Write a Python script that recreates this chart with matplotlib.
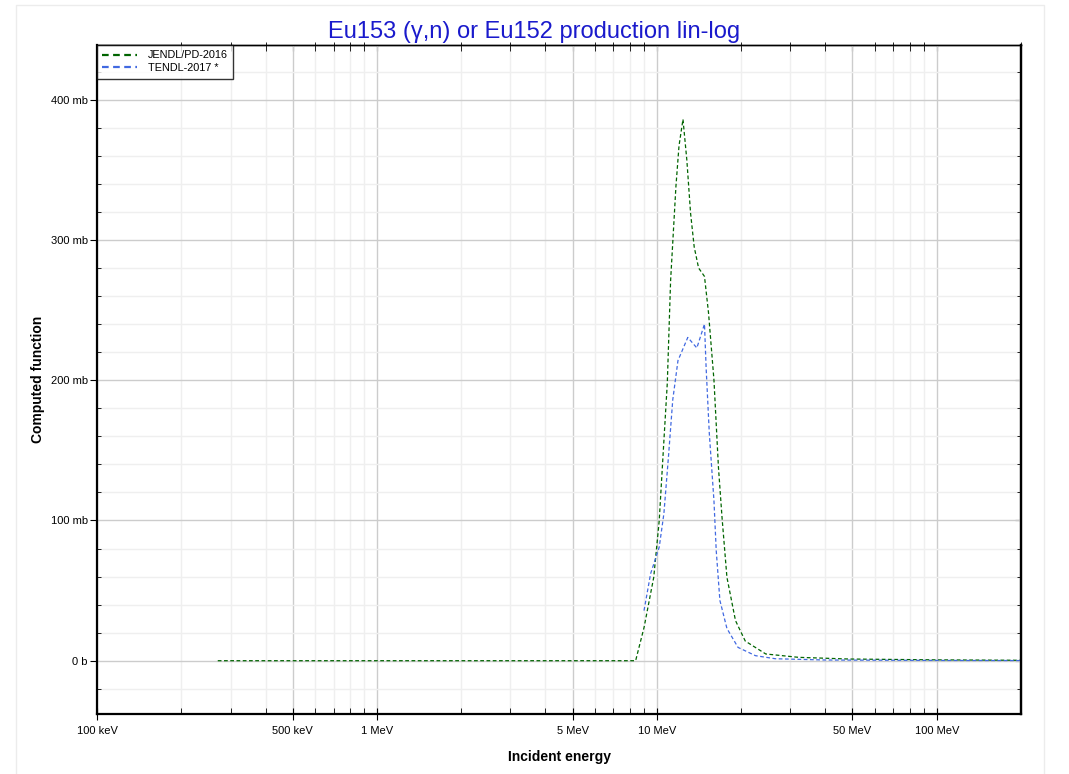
import matplotlib
matplotlib.use("Agg")
import matplotlib.pyplot as plt
from matplotlib.ticker import FixedLocator, FuncFormatter, MultipleLocator
from matplotlib.patches import Rectangle

plt.rcParams['font.family'] = ['Liberation Sans', 'DejaVu Sans']

# energies in MeV, cross sections in mb
jendl_e = [0.27, 1.0, 3.0, 8.4, 9.0, 9.75, 10.2, 10.6, 10.9, 11.2, 11.7, 12.0, 12.4,
           12.8, 13.2, 13.6, 14.1, 14.8, 15.3, 16.0, 16.6, 17.1, 17.8, 19.1, 20.7,
           24.5, 32.1, 48.5, 100.0, 200.0]
jendl_xs = [0.0, 0.0, 0.0, 0.0, 23.6, 59.5, 100.0, 157.0, 198.0, 271.0, 338.0, 367.0, 386.0,
            357.0, 319.0, 295.0, 280.0, 274.0, 248.0, 200.0, 138.0, 102.0, 59.5, 28.6, 14.0,
            4.8, 2.4, 1.2, 0.6, 0.3]

tendl_e = [9.0, 9.5, 10.2, 10.6, 11.0, 11.4, 11.9, 12.9, 13.9, 14.8, 15.0, 15.4, 16.0,
           16.3, 16.8, 17.8, 19.5, 22.5, 26.5, 40.0, 100.0, 200.0]
tendl_xs = [35.7, 62.0, 81.0, 105.0, 145.0, 186.0, 214.0, 230.5, 223.0, 240.0, 209.0, 162.0, 114.0,
            78.6, 43.0, 23.0, 9.5, 3.6, 1.4, 0.5, 0.2, 0.1]

major_e = [0.1, 0.5, 1, 5, 10, 50, 100]


def energy_label(v, pos):
    if v < 1:
        return "%g keV" % (v * 1000)
    return "%g MeV" % v


def xs_label(v, pos):
    if abs(v) < 1e-9:
        return "0 b"
    return "%g mb" % v


fig = plt.figure(figsize=(10.69, 7.74), dpi=100)
# light frame around the chart
fig.patches.append(Rectangle((16 / 1069, -0.01), 1028 / 1069, 769 / 774 + 0.01, transform=fig.transFigure,
                             fill=False, edgecolor='#ececec', linewidth=1))
ax = fig.add_axes([97 / 1069, 60 / 774, 924 / 1069, 669 / 774])

ax.plot(jendl_e, jendl_xs, color='#006400', linestyle=(0, (3, 2)), linewidth=0.9, label='JENDL/PD-2016')
ax.plot(tendl_e, tendl_xs, color='#4169e1', linestyle=(0, (3, 2)), linewidth=0.9, label='TENDL-2017 *')

ax.set_xscale('log')
ax.set_xlim(0.1, 200)
ax.set_ylim(-38, 439)

ax.xaxis.set_major_locator(FixedLocator(major_e))
minor = [m * d for d in [0.1, 1, 10, 100] for m in range(2, 10)]
ax.xaxis.set_minor_locator(FixedLocator([v for v in minor if v not in major_e and v < 200]))
ax.xaxis.set_major_formatter(FuncFormatter(energy_label))
ax.xaxis.set_minor_formatter(FuncFormatter(lambda v, p: ""))
ax.yaxis.set_major_locator(MultipleLocator(100))
ax.yaxis.set_minor_locator(MultipleLocator(20))
ax.yaxis.set_major_formatter(FuncFormatter(xs_label))

ax.grid(True, which='major', color='#cccccc', linewidth=1)
ax.grid(True, which='minor', color='#efefef', linewidth=1)
ax.set_axisbelow(True)

ax.tick_params(axis='x', which='major', direction='inout', top=False, bottom=True, length=9,
               labelsize=8, pad=4)
ax.tick_params(axis='x', which='minor', direction='in', top=True, bottom=True, length=4)
ax.tick_params(axis='y', which='major', direction='out', left=True, right=False, length=5,
               labelsize=8, pad=1.5)
ax.tick_params(axis='y', which='minor', direction='in', left=True, right=True, length=3)

# inward ticks on the top edge and right edge at the major positions too
secx = ax.secondary_xaxis('top')
secx.set_xticks(major_e)
secx.set_xticklabels([])
secx.tick_params(direction='in', length=4)
secx.spines['top'].set_linewidth(1.0)
secy = ax.secondary_yaxis('right')
secy.set_yticks([0, 100, 200, 300, 400])
secy.set_yticklabels([])
secy.tick_params(direction='in', length=4)
secy.spines['right'].set_linewidth(1.6)

for side in ['left', 'bottom', 'right']:
    ax.spines[side].set_linewidth(1.6)
ax.spines['top'].set_linewidth(1.0)

ax.set_xlabel('Incident energy', fontsize=10, fontweight='bold', labelpad=10)
ax.set_ylabel('Computed function', fontsize=10, fontweight='bold', labelpad=4)
fig.suptitle('Eu153 (γ,n) or Eu152 production lin-log', color='#1a1acc', fontsize=17, y=0.973)

leg = ax.legend(loc='upper left', fontsize=7.8, frameon=True, fancybox=False, borderaxespad=0,
                handlelength=3.2, borderpad=0.5, labelspacing=0.25, handletextpad=1.0)
leg.get_frame().set_edgecolor('black')
leg.get_frame().set_linewidth(1.0)
for ln in leg.get_lines():
    ln.set_linewidth(1.6)

fig.savefig('out.png', dpi=100)
